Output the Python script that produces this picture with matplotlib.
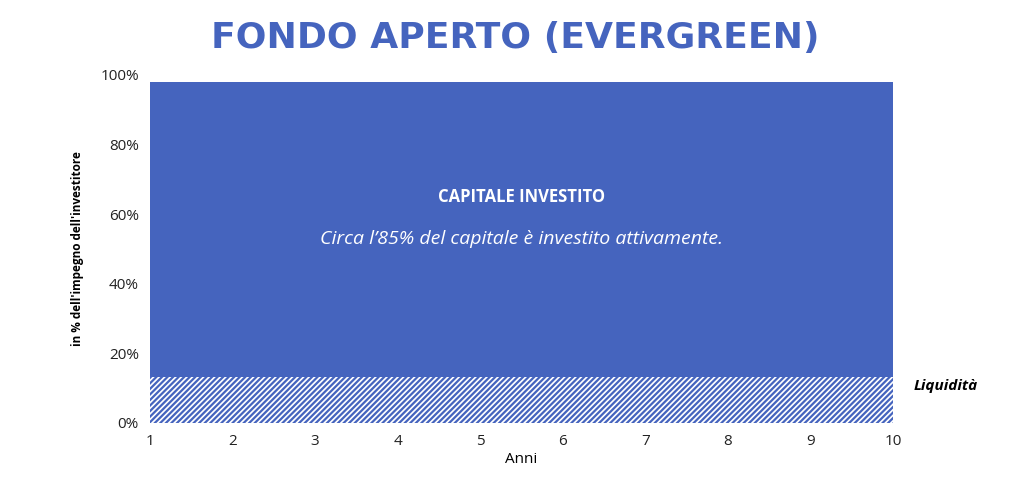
import matplotlib
matplotlib.use("Agg")
import matplotlib.pyplot as plt
import matplotlib.font_manager as fm

years = list(range(1, 11))
liquidita = [13.2]*10
capitale = [84.8]*10
blue = "#4564BE"

plt.rcParams['font.family'] = ['Open Sans', 'DejaVu Sans']
plt.rcParams['hatch.color'] = blue
plt.rcParams['hatch.linewidth'] = 1.6

fig = plt.figure(figsize=(10.24, 4.93), dpi=100)
ax = fig.add_axes([150/1024, 1-423/493, 743/1024, 348/493])
ax.fill_between(years, 0, liquidita, facecolor="white", hatch="//////", edgecolor=blue, linewidth=0)
ax.fill_between(years, liquidita, [a+b for a, b in zip(liquidita, capitale)], facecolor=blue, linewidth=0)
ax.set_xlim(1, 10); ax.set_ylim(0, 100)
ax.set_xticks(years)
ax.set_yticks(range(0, 101, 20))
ax.set_yticklabels([f"{v}%" for v in range(0, 101, 20)])
ax.tick_params(length=0, labelsize=11, colors="#222222", pad=8)
for s in ax.spines.values(): s.set_visible(False)
ax.set_xlabel("Anni", fontsize=11, labelpad=2)
ax.set_ylabel("in % dell'impegno dell'investitore", fontsize=8.5, fontweight="bold", labelpad=12)
ax.text(5.5, 65, "CAPITALE INVESTITO", color="white", fontsize=12, fontweight="bold", ha="center", va="center")
ax.text(5.5, 53, "Circa l’85% del capitale è investito attivamente.", color="white", fontsize=14, style="italic", ha="center", va="center")
ax.text(10.25, 10.5, "Liquidità", fontsize=11, fontweight="bold", style="italic", ha="left", va="center")
names = {f.name for f in fm.fontManager.ttflist}
tf = 'Liberation Sans Narrow' if 'Liberation Sans Narrow' in names else 'DejaVu Sans'
fig.text(515/1024, 1-38/493, "FONDO APERTO (EVERGREEN)", family=tf, fontsize=26, fontweight="bold", color=blue, ha="center", va="center")
fig.savefig("out.png", dpi=100)
